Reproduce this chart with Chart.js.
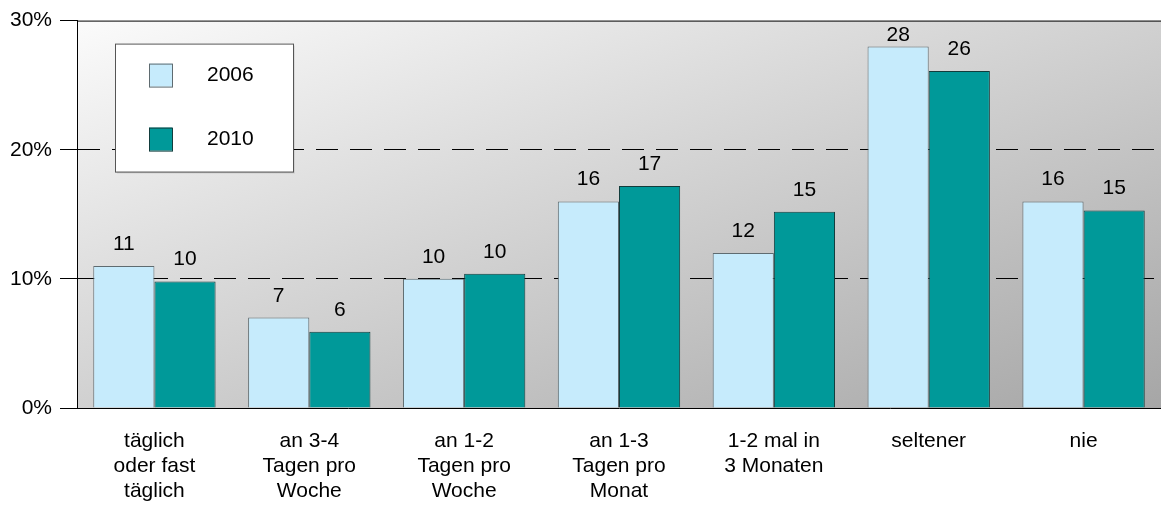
<!DOCTYPE html>
<html>
<head>
<meta charset="utf-8">
<script src="https://cdn.jsdelivr.net/npm/chart.js@4"></script>
<style>
  body { margin: 0; background: #fff; }
  canvas { display: block; }
</style>
</head>
<body>
<canvas id="freqChart" width="1161" height="513"></canvas>
<script>
  // data
  const categories = [
    ["täglich", "oder fast", "täglich"],
    ["an 3-4", "Tagen pro", "Woche"],
    ["an 1-2", "Tagen pro", "Woche"],
    ["an 1-3", "Tagen pro", "Monat"],
    ["1-2 mal in", "3 Monaten"],
    "seltener",
    "nie",
  ];
  const seriesNames = ["2006", "2010"];
  const values2006 = [11, 7, 10, 16, 12, 28, 16];
  const values2010 = [9.8, 5.9, 10.4, 17.2, 15.2, 26.1, 15.3];
  const yTicks = [0, 10, 20, 30];

  const FONT = "'Liberation Sans', Arial, sans-serif";
  const FS = 21;

  // plot background: light top-left to darker bottom-right
  const bgPlugin = {
    id: "bg",
    beforeDraw(chart) {
      const { ctx, chartArea: a } = chart;
      const W = a.right - a.left, H = a.bottom - a.top;
      const k = 2 / (1 / (W * W) + 1 / (H * H));
      const g = ctx.createLinearGradient(a.left, a.top, a.left + k / W, a.top + k / H);
      g.addColorStop(0, "#fbfbfb");
      g.addColorStop(1, "#a6a6a6");
      ctx.save();
      ctx.fillStyle = g;
      ctx.fillRect(a.left, a.top, W, H);
      ctx.restore();
    },
    beforeDatasetsDraw(chart) {
      // solid top line
      const { ctx, chartArea: a } = chart;
      ctx.save();
      ctx.strokeStyle = "#000";
      ctx.lineWidth = 1;
      ctx.beginPath();
      ctx.moveTo(a.left, a.top + 0.5);
      ctx.lineTo(a.right, a.top + 0.5);
      ctx.stroke();
      ctx.restore();
    }
  };

  // value labels above bars
  const valueLabels = {
    id: "valueLabels",
    afterDatasetsDraw(chart) {
      const { ctx, chartArea: a } = chart;
      ctx.save();
      ctx.font = FS + "px " + FONT;
      ctx.fillStyle = "#000";
      ctx.textAlign = "center";
      ctx.textBaseline = "alphabetic";
      chart.data.datasets.forEach((ds, i) => {
        chart.getDatasetMeta(i).data.forEach((bar, j) => {
          const y = Math.max(bar.y - 16, a.top + 20);
          ctx.fillText(Math.round(ds.data[j]), bar.x, y);
        });
      });
      ctx.restore();
    }
  };

  // boxed legend inside the plot
  const boxLegend = {
    id: "boxLegend",
    afterDraw(chart) {
      const { ctx, chartArea: a } = chart;
      const x = a.left + 38, y = a.top + 23, w = 178, h = 128;
      ctx.save();
      ctx.fillStyle = "rgba(0,0,0,0.08)";
      ctx.fillRect(x + 2, y + 2, w, h);
      ctx.fillStyle = "#fff";
      ctx.fillRect(x, y, w, h);
      ctx.strokeStyle = "#555";
      ctx.lineWidth = 1;
      ctx.strokeRect(x + 0.5, y + 0.5, w, h);
      ctx.font = FS + "px " + FONT;
      ctx.textBaseline = "middle";
      ctx.textAlign = "left";
      chart.data.datasets.forEach((ds, i) => {
        const sy = y + 20 + i * 64;
        ctx.fillStyle = ds.backgroundColor;
        ctx.fillRect(x + 34, sy, 23, 23);
        ctx.strokeStyle = ds.borderColor;
        ctx.strokeRect(x + 34.5, sy + 0.5, 23, 23);
        ctx.fillStyle = "#000";
        ctx.fillText(ds.label, x + 92, sy + 12);
      });
      ctx.restore();
    }
  };

  // setup
  const data = {
    labels: categories,
    datasets: [
      {
        label: seriesNames[0],
        data: values2006,
        backgroundColor: "#c6ebfc",
        borderColor: "#5f6b70",
        borderWidth: 1,
        categoryPercentage: 0.79,
        barPercentage: 1.0,
      },
      {
        label: seriesNames[1],
        data: values2010,
        backgroundColor: "#009999",
        borderColor: "#123c3c",
        borderWidth: 1,
        categoryPercentage: 0.79,
        barPercentage: 1.0,
      },
    ]
  };

  // config
  const config = {
    type: "bar",
    data,
    plugins: [bgPlugin, valueLabels, boxLegend],
    options: {
      responsive: false,
      animation: false,
      layout: { padding: { top: 20, right: 0, left: 0, bottom: 0 } },
      plugins: {
        legend: { display: false },
        tooltip: { enabled: false },
      },
      scales: {
        x: {
          grid: { display: false, drawTicks: false },
          border: { display: true, color: "#000", width: 1 },
          ticks: {
            color: "#000",
            padding: 21,
            maxRotation: 0,
            autoSkip: false,
            font: { family: FONT, size: FS, lineHeight: 1.19 },
          },
          afterFit(scale) { scale.height = 105; },
        },
        y: {
          min: 0,
          max: 30,
          afterBuildTicks(scale) { scale.ticks = yTicks.map(v => ({ value: v })); },
          grid: {
            color: ctx => (ctx.tick && (ctx.tick.value === 10 || ctx.tick.value === 20)) ? "#000" : "rgba(0,0,0,0)",
            lineWidth: 1,
            tickColor: "#000",
            tickLength: 17,
            tickBorderDash: [],
          },
          border: { display: true, color: "#000", width: 1, dash: [22, 12] },
          ticks: {
            color: "#000",
            padding: 8,
            callback: v => v + "%",
            font: { family: FONT, size: FS },
          },
          afterFit(scale) { scale.width = 77; },
        }
      }
    }
  };

  // render init block
  const freqChart = new Chart(document.getElementById("freqChart").getContext("2d"), config);
</script>
</body>
</html>
